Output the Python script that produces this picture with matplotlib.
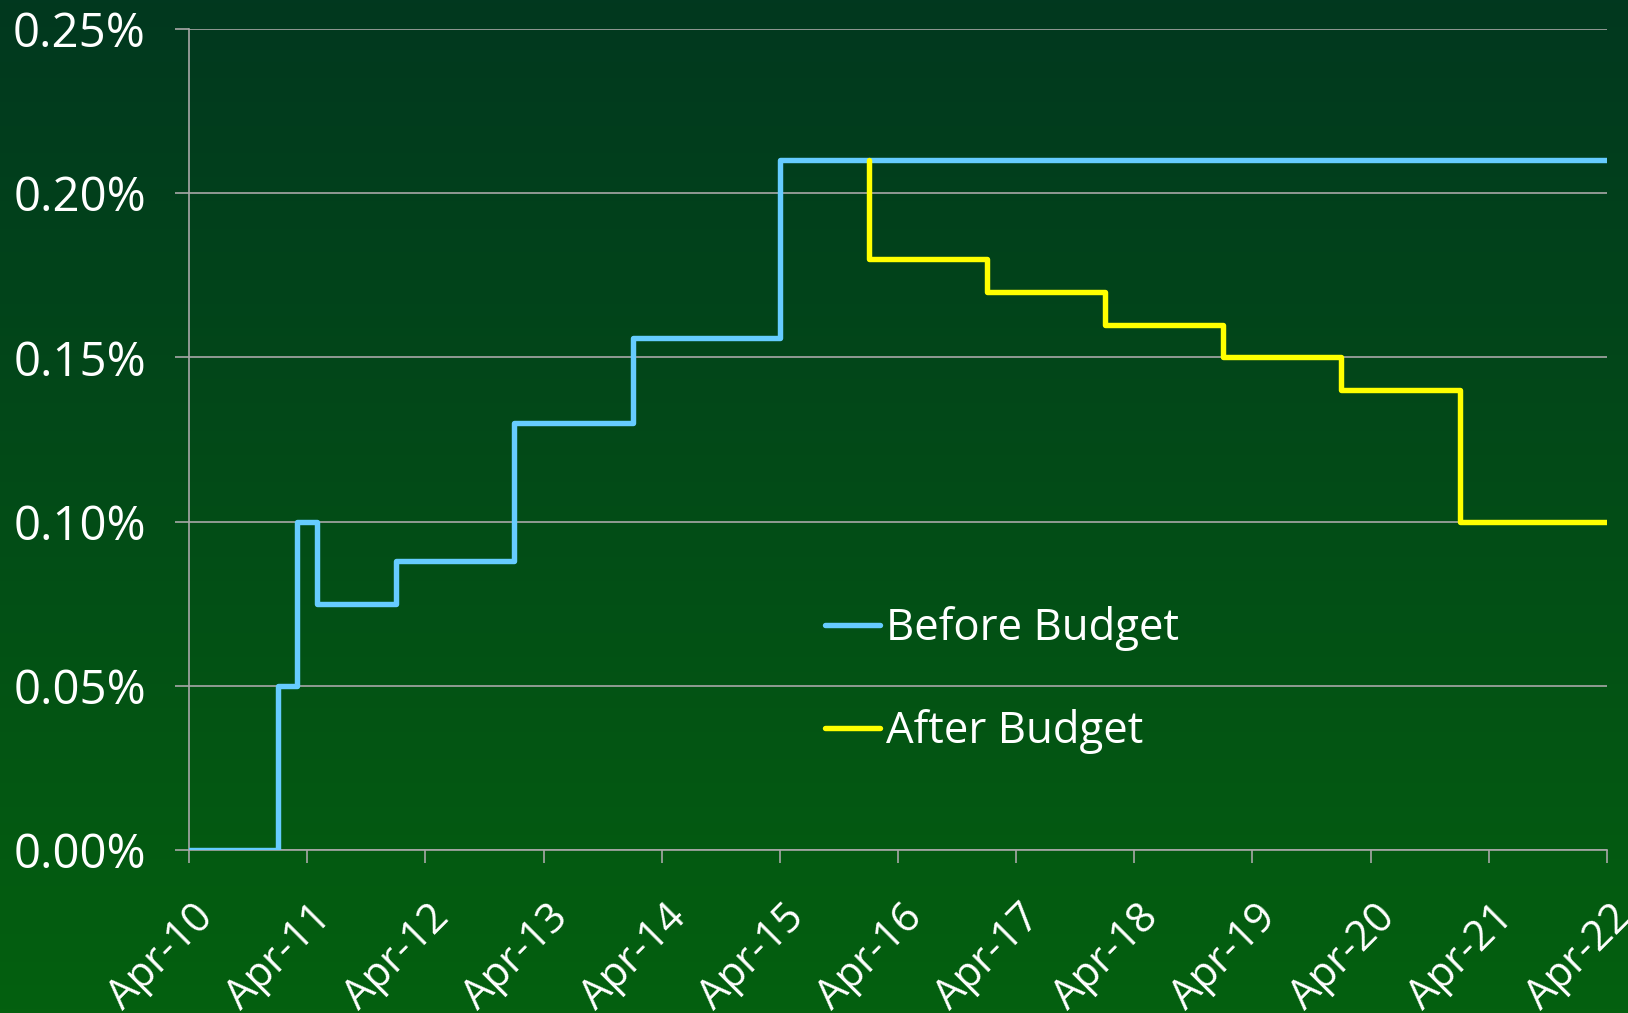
import numpy as np
import matplotlib
matplotlib.use("Agg")
import matplotlib.pyplot as plt
import matplotlib.dates as mdates
import matplotlib.transforms as mtransforms
from matplotlib.ticker import FuncFormatter
import datetime as dt

plt.rcParams['font.family'] = ['Open Sans', 'DejaVu Sans']

# ---- data ----
before_dates = ["2010-04-01", "2011-01-01", "2011-03-01", "2011-05-01", "2012-01-01",
                "2013-01-01", "2014-01-01", "2015-04-01", "2022-04-01"]
before_values = [0.0, 0.05, 0.10, 0.075, 0.088, 0.13, 0.156, 0.21, 0.21]

after_dates = ["2016-01-01", "2016-01-01", "2017-01-01", "2018-01-01", "2019-01-01",
               "2020-01-01", "2021-01-01", "2022-04-01"]
after_values = [0.21, 0.18, 0.17, 0.16, 0.15, 0.14, 0.10, 0.10]

tick_years = list(range(2010, 2023))
series_labels = ["Before Budget", "After Budget"]

def to_dates(lst):
    return [dt.datetime.strptime(s, "%Y-%m-%d") for s in lst]

W, H = 1628, 1013
fig = plt.figure(figsize=(W / 100, H / 100), dpi=100)

# background gradient
bg = fig.add_axes([0, 0, 1, 1], zorder=-10)
top = np.array([1, 56, 31]) / 255.0
bot = np.array([4, 96, 15]) / 255.0
t = np.linspace(0, 1, 256)[:, None]
grad = top[None, :] * (1 - t) + bot[None, :] * t
grad = np.repeat(grad[:, None, :], 2, axis=1)
bg.imshow(grad, aspect='auto', extent=[0, 1, 0, 1])
bg.set_axis_off()

ax = fig.add_axes([189 / W, 1 - 850 / H, (1607 - 189) / W, (850 - 29) / H])
ax.set_facecolor('none')

grid_c = '#a8a8a8'
ax.plot(to_dates(before_dates), before_values, drawstyle='steps-post', color='#66ccff',
        lw=3.9, solid_joinstyle='round', solid_capstyle='round', label=series_labels[0], zorder=3)
ax.plot(to_dates(after_dates), after_values, drawstyle='steps-post', color='#ffff00',
        lw=3.9, solid_joinstyle='round', solid_capstyle='round', label=series_labels[1], zorder=4)

ax.set_xlim(dt.datetime(2010, 4, 1), dt.datetime(2022, 4, 1))
ax.set_ylim(0, 0.25)
ax.set_yticks([0, 0.05, 0.10, 0.15, 0.20, 0.25])
ax.yaxis.set_major_formatter(FuncFormatter(lambda v, p: f"{v:.2f}%"))
ax.set_xticks([dt.datetime(y, 4, 1) for y in tick_years])
ax.xaxis.set_major_formatter(mdates.DateFormatter("%b-%y"))

ax.grid(axis='y', color=grid_c, lw=1.2)
ax.set_axisbelow(True)
for s in ['top', 'right']:
    ax.spines[s].set_visible(False)
for s in ['left', 'bottom']:
    ax.spines[s].set_color(grid_c)
    ax.spines[s].set_linewidth(1.2)

ax.tick_params(axis='y', length=10, width=1.2, color=grid_c, labelcolor='white',
               labelsize=34, pad=21)
ax.tick_params(axis='x', length=9.5, width=1.2, color=grid_c, labelcolor='white',
               labelsize=30, pad=24)
offset = mtransforms.ScaledTranslation(3 / 100, 0, fig.dpi_scale_trans)
for lab in ax.get_xticklabels():
    lab.set_rotation(45)
    lab.set_ha('right')
    lab.set_va('top')
    lab.set_rotation_mode('anchor')
    lab.set_transform(lab.get_transform() + offset)

leg = ax.legend(loc='upper left', bbox_to_anchor=(0.4485, 0.297), frameon=False,
                fontsize=31.5, labelcolor='white', handlelength=1.25, handletextpad=0.15,
                labelspacing=1.33, borderaxespad=0, borderpad=0)

fig.savefig("out.png", dpi=100)
